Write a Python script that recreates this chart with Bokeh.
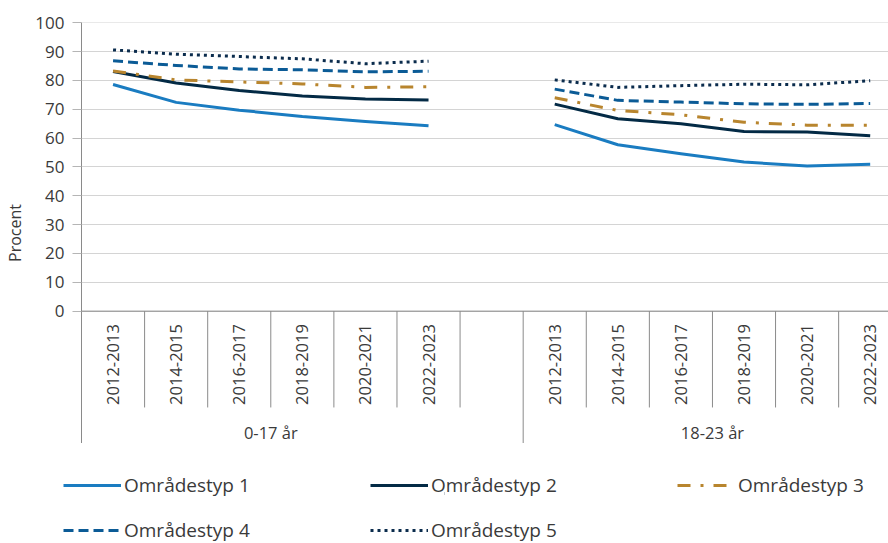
import math
from bokeh.plotting import figure
from bokeh.layouts import column
from bokeh.models import Range1d, FixedTicker, Legend, LegendItem, Span
from bokeh.embed import file_html
from bokeh.resources import INLINE
from bokeh.core.properties import value

# ---------------- data ----------------
periods = ["2012-2013", "2014-2015", "2016-2017", "2018-2019", "2020-2021", "2022-2023"]
groups = ["0-17 år", "18-23 år"]
series_names = ["Områdestyp 1", "Områdestyp 2", "Områdestyp 3", "Områdestyp 4", "Områdestyp 5"]

# values per group: [0-17 år], [18-23 år]
typ1 = [[78.6, 72.4, 69.7, 67.5, 65.8, 64.3], [64.7, 57.7, 54.6, 51.7, 50.3, 50.9]]
typ2 = [[83.1, 79.1, 76.5, 74.6, 73.6, 73.2], [71.8, 66.7, 65.0, 62.3, 62.1, 60.8]]
typ3 = [[83.3, 80.2, 79.5, 78.8, 77.6, 77.8], [74.0, 69.6, 68.1, 65.5, 64.5, 64.5]]
typ4 = [[86.8, 85.2, 84.0, 83.7, 83.0, 83.2], [77.0, 73.1, 72.5, 71.9, 71.7, 72.0]]
typ5 = [[90.6, 89.1, 88.3, 87.5, 85.8, 86.7], [80.2, 77.6, 78.2, 78.7, 78.5, 79.9]]
series_values = [typ1, typ2, typ3, typ4, typ5]
y_ticks = [0, 10, 20, 30, 40, 50, 60, 70, 80, 90, 100]

# ---------------- style ----------------
colors = ["#1a7cc1", "#032a45", "#b8852e", "#0b5b96", "#0b2c4d"]
dashes = ["solid", "solid", "13 10 3 10", "10 5", "3 4"]
FONT = "Open Sans"
TXT = "#3a3a3a"
GRID = "#d4d4d4"
AXIS = "#8a8a8a"

slot_per_group = len(periods) + 1  # one empty slot between groups
SHORT_SEP = -33.4
LABEL_Y = -18.5
GROUP_LABEL_Y = -42.1

p = figure(width=888, height=443, output_backend="svg", toolbar_location=None,
           x_range=Range1d(0, 12.79), y_range=Range1d(-45.9, 100.1),
           min_border_left=81, min_border_right=0, min_border_top=22, min_border_bottom=0)
p.frame_align = False
p.outline_line_color = None
p.background_fill_color = "white"
p.border_fill_color = "white"
p.xaxis.visible = False
p.xgrid.visible = False

p.ygrid.ticker = FixedTicker(ticks=y_ticks)
p.ygrid.grid_line_color = GRID
p.ygrid.grid_line_width = 1

ya = p.yaxis[0]
ya.ticker = FixedTicker(ticks=y_ticks)
ya.axis_line_color = AXIS
ya.major_tick_out = 9
ya.major_tick_in = 0
ya.major_tick_line_color = "#b5b5b5"
ya.minor_tick_line_color = None
ya.major_label_standoff = 8
ya.major_label_text_font = FONT
ya.major_label_text_font_size = "17px"
ya.major_label_text_color = TXT
ya.axis_label = "Procent"
ya.axis_label_text_font = FONT
ya.axis_label_text_font_size = "16px"
ya.axis_label_text_font_style = "normal"
ya.axis_label_text_color = TXT
ya.axis_label_standoff = 6

# horizontal axis line at 0
p.add_layout(Span(location=0, dimension="width", line_color=AXIS, line_width=1))

# separators between category slots (group starts run down to the frame bottom)
n_slots = slot_per_group * len(groups) - 1
sep_x0, sep_y0, sep_y1 = [], [], []
for k in range(1, n_slots + 1):
    long_sep = (k % slot_per_group == 0)
    sep_x0.append(k)
    sep_y0.append(0)
    sep_y1.append(-45.9 if long_sep else SHORT_SEP)
p.segment(x0=sep_x0, y0=sep_y0, x1=sep_x0, y1=sep_y1, line_color=AXIS, line_width=1)

# category labels
lab_x, lab_t = [], []
for g in range(len(groups)):
    for i, per in enumerate(periods):
        lab_x.append(g * slot_per_group + i + 0.5)
        lab_t.append(per)
p.text(x=lab_x, y=[LABEL_Y] * len(lab_x), text=lab_t, angle=math.pi / 2,
       text_align="center", text_baseline="middle", text_font=value(FONT),
       text_font_size="16.5px", text_color=TXT)
gx = [g * slot_per_group + len(periods) / 2 for g in range(len(groups))]
p.text(x=gx, y=[GROUP_LABEL_Y] * len(gx), text=groups, text_align="center",
       text_baseline="middle", text_font=value(FONT), text_font_size="16.5px", text_color=TXT)

# series lines
for name, vals, c, d in zip(series_names, series_values, colors, dashes):
    xs = [[g * slot_per_group + i + 0.5 for i in range(len(periods))] for g in range(len(groups))]
    p.multi_line(xs=xs, ys=vals, line_color=c, line_width=3, line_dash=d, line_join="round")

# ---------------- legend strip ----------------
lg = figure(width=888, height=100, output_backend="svg", toolbar_location=None,
            x_range=Range1d(0, 1), y_range=Range1d(0, 1),
            min_border_left=0, min_border_right=0, min_border_top=0, min_border_bottom=0)
lg.frame_align = False
lg.axis.visible = False
lg.grid.visible = False
lg.outline_line_color = None
items = []
for name, c, d in zip(series_names, colors, dashes):
    # legend keys only: a zero-length line draws nothing itself
    r = lg.line(x=[0.5, 0.5], y=[0.5, 0.5], line_color=c, line_width=3, line_dash=d)
    items.append(LegendItem(label=name, renderers=[r]))

legend = Legend(items=items, location=(63, -9), orientation="horizontal", ncols=3,
                glyph_width=58, glyph_height=20, label_standoff=3, label_width=245,
                label_height=44, spacing=1, padding=0, margin=0,
                border_line_color=None, background_fill_alpha=0,
                label_text_font=FONT, label_text_font_size="19px", label_text_color=TXT)
lg.add_layout(legend)

layout = column(p, lg, spacing=0)
open("out.html", "w").write(file_html(layout, INLINE))
